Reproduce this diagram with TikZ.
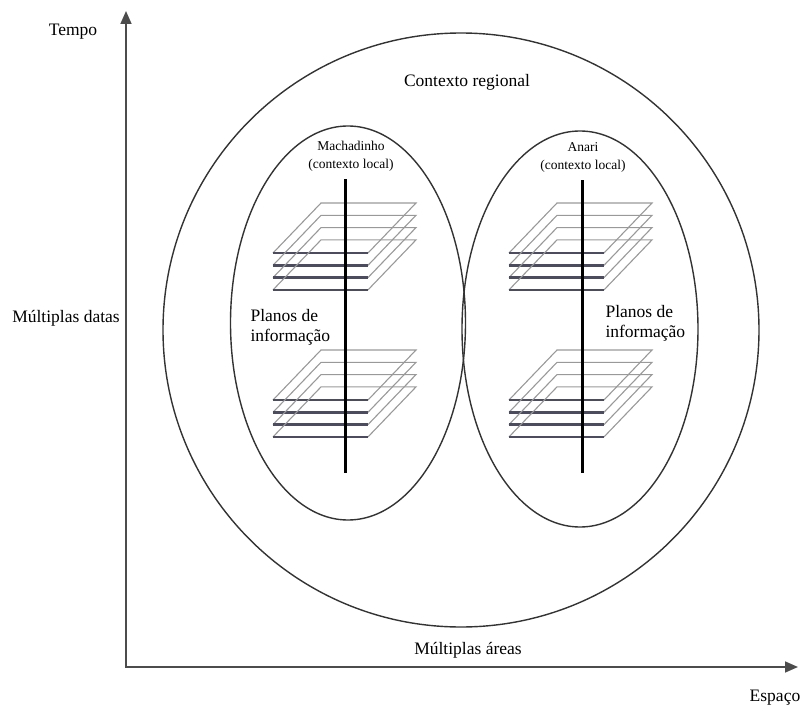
\documentclass[tikz,border=0pt]{standalone}
\usepackage{fontspec}
\setmainfont{Liberation Serif}
\usetikzlibrary{shapes.geometric,arrows.meta}

\definecolor{planeedge}{rgb}{0.30,0.30,0.38}
\tikzset{
  ctx/.style={draw=black!80, line width=1.4pt, ellipse, inner sep=0pt},
  axis/.style={draw=black!70, line width=1.6pt},
  plane back/.style={draw=black!40, line width=1.1pt},
  plane front/.style={draw=planeedge, line width=2.6pt},
  bar/.style={draw=black, line width=3pt},
  txt/.style={font=\fontsize{17.5}{20}\selectfont},
  smalltxt/.style={font=\fontsize{13.5}{18}\selectfont, align=center},
}

\begin{document}
\begin{tikzpicture}[x=1pt,y=-1pt]
\useasboundingbox (0,0) rectangle (807,709);

% eixos
\coordinate (topo) at (126,11);
\coordinate (origem) at (126,667);
\coordinate (fim) at (798,667);
\draw[axis, {Triangle[length=13pt,width=11pt]}-{Triangle[length=13pt,width=11pt]}] (topo) -- (origem) -- (fim);

% contextos
\node[ctx, minimum width=596pt, minimum height=594pt] (regional) at (461,330) {};
\node[ctx, minimum width=235pt, minimum height=394pt] (machadinho) at (348,323) {};
\node[ctx, minimum width=236pt, minimum height=396pt] (anari) at (580,329) {};

% planos de informacao
\foreach \px/\py in {273/253, 273/400, 509/253, 509/400}{
  \foreach \k in {0,...,3}{
    \draw[plane back] (\px,\py+12.3*\k) -- ++(48,-50) -- ++(95,0) -- ++(-48,50);
    \draw[plane front] (\px,\py+12.3*\k) -- ++(95,0);
  }
}
\draw[bar] (345,179) -- (345,473);
\draw[bar] (582,180) -- (582,473);

\node[txt] (tempo) at (73,32) {Tempo};
\node[txt] (datas) at (66,318) {Múltiplas datas};
\node[txt] (regional txt) at (467,82) {Contexto regional};
\node[smalltxt] (machadinho txt) at (351,156) {Machadinho\\(contexto local)};
\node[smalltxt] (anari txt) at (583,157) {Anari\\(contexto local)};
\node[txt, align=left, anchor=west] (planos esq) at (247,327) {Planos de\\informação};
\node[txt, align=left, anchor=west] (planos dir) at (602,323) {Planos de\\informação};
\node[txt] (areas) at (468,650) {Múltiplas áreas};
\node[txt] (espaco) at (775,698) {Espaço};
\end{tikzpicture}
\end{document}
